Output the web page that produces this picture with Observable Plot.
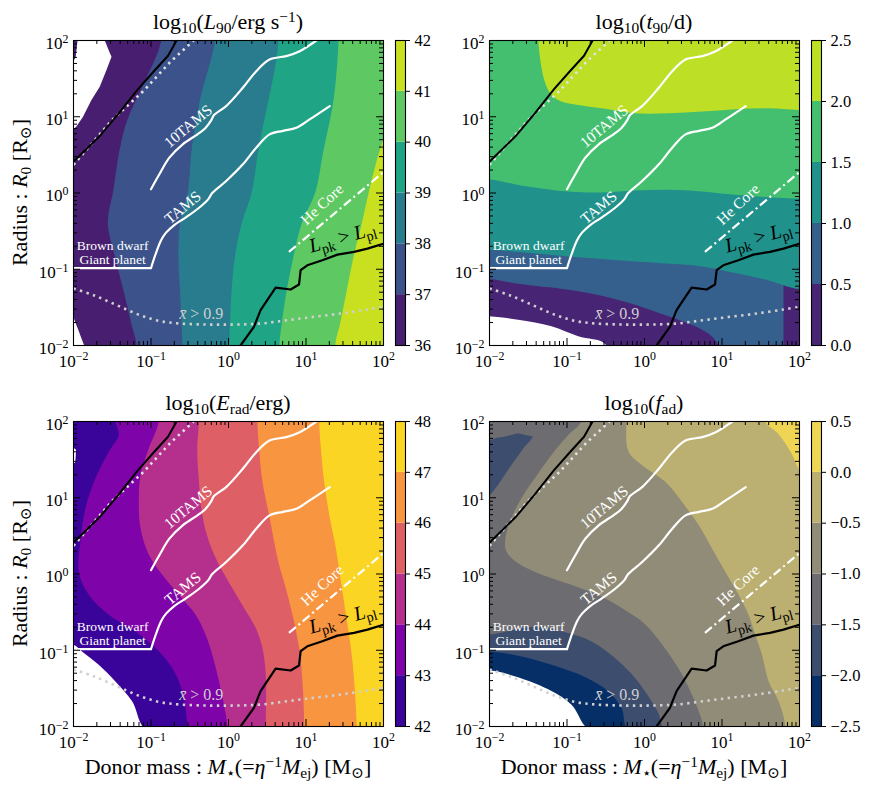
<!DOCTYPE html>
<html><head><meta charset="utf-8">
<script src="https://cdn.jsdelivr.net/npm/d3@7"></script>
<script src="https://cdn.jsdelivr.net/npm/@observablehq/plot@0.6"></script>
<style>
body{margin:0;background:#fff;}
#fig{position:relative;width:872px;height:794px;overflow:hidden;font-family:"Liberation Serif","DejaVu Serif",serif;color:#000;}
.lab{position:absolute;left:0;top:0;white-space:nowrap;line-height:1;transform-origin:0 0;}
.lab sub{font-size:70%;vertical-align:-0.25em;line-height:0;}
.lab sup{font-size:70%;vertical-align:0.45em;line-height:0;}
</style></head><body><div id="fig"></div>
<script>
// ================= DATA (log10 M, log10 R) =================
const majorTicks = [-2, -1, 0, 1, 2];
const tickLabels = ["10^{−2}", "10^{−1}", "10^{0}", "10^{1}", "10^{2}"];
const minorMultipliers = [2, 3, 4, 5, 6, 7, 8, 9];
const decades = [-2, -1, 0, 1];

// shared overlay curves
const blackUL = [[-2,0.41],[-1.668,0.74],[-1.41,1.05],[-1.17,1.36],[-0.96,1.6],[-0.78,1.8],[-0.67,2.0]];
const dottedUL = [[-2,0.37],[-1.5,0.96],[-1.095,1.34],[-0.75,1.72],[-0.45,2.0]];
const tamsFlat = [[-2,-0.985],[-1.0,-0.985]];
const tams = [[-1.0,-0.985],[-0.94,-0.80],[-0.87,-0.62],[-0.806,-0.52],[-0.70,-0.42],[-0.55,-0.32],[-0.375,-0.19],[-0.26,-0.08],[-0.21,0.0],[-0.03,0.157],[0.185,0.376],[0.358,0.594],[0.53,0.769],[0.703,0.815],[0.875,0.856],[1.047,0.965],[1.306,1.14]];
const tams10 = [[-1.0,0.05],[-0.892,0.245],[-0.763,0.463],[-0.591,0.638],[-0.40,0.77],[-0.30,0.85],[-0.22,0.96],[-0.19,1.02],[-0.03,1.14],[0.185,1.38],[0.358,1.598],[0.53,1.751],[0.746,1.795],[0.918,1.86],[1.134,2.0]];
const heCore = [[0.78,-0.773],[2.0,0.275]];
const lpkLine = [[0.155,-2.0],[0.328,-1.755],[0.414,-1.537],[0.50,-1.406],[0.608,-1.24],[0.802,-1.266],[0.91,-1.20],[0.931,-1.013],[1.017,-0.948],[1.211,-0.882],[1.405,-0.808],[1.62,-0.773],[1.793,-0.729],[2.0,-0.664]];
const xbarCurve = [[-2,-1.253],[-1.741,-1.34],[-1.44,-1.472],[-1.138,-1.603],[-0.879,-1.681],[-0.62,-1.712],[-0.276,-1.725],[0.069,-1.725],[0.414,-1.712],[0.759,-1.668],[1.103,-1.624],[1.448,-1.581],[1.793,-1.528],[2.0,-1.493]];

// Panel 1: log10 L90 boundaries (x as function of y, top -> bottom)
const p1b37 = [[-0.86,2],[-1.10,1.40],[-1.30,0.95],[-1.40,0.55],[-1.48,0.03],[-1.55,-0.40],[-1.46,-0.84],[-1.35,-1.28],[-1.25,-1.71],[-1.18,-2.0]];
const p1b38 = [[-0.168,2],[-0.362,1.214],[-0.47,0.559],[-0.52,0.0],[-0.62,-0.40],[-0.64,-0.838],[-0.62,-1.275],[-0.60,-1.712],[-0.59,-2]];
const p1b39 = [[0.651,2],[0.608,1.65],[0.522,1.214],[0.392,0.559],[0.306,0.0],[0.177,-0.40],[0.09,-0.838],[0.047,-1.275],[0.026,-1.712],[0.017,-2]];
const p1b40 = [[1.427,2],[1.362,1.214],[1.233,0.559],[1.125,0.0],[0.953,-0.40],[0.845,-0.838],[0.759,-1.275],[0.694,-1.712],[0.664,-2]];
const p1b41 = [[2.4,2],[2.1,1.0],[2.0,0.69],[1.922,0.43],[1.815,0.0],[1.728,-0.40],[1.62,-0.838],[1.534,-1.275],[1.448,-1.712],[1.384,-2]];
const p1WhiteTop = [[2.05,-1.935,-1.612],[1.83,-1.96,-1.525],[1.78,-1.965,-1.503],[1.607,-2.05,-1.568],[1.388,-2.05,-1.655],[1.214,-2.05,-1.762],[0.995,-2.05,-1.871],[0.864,-2.05,-1.956],[0.82,-2.05,-2.0]]; // [y, x1, x2]
const p1WhiteBottom = [[-1.62,-2.05,-2.0],[-2.05,-2.05,-1.84]];

// Panel 2: log10 t90 boundaries (y as function of x, left -> right)
const p2b05 = [[-2,-1.135],[-1.625,-1.197],[-0.978,-1.275],[-0.547,-1.354],[-0.116,-1.472],[0.315,-1.624],[0.66,-1.755],[0.875,-1.886],[0.96,-1.996],[1.2,-2.3]];
const p2b10 = [[-2,-0.751],[-0.978,-0.838],[-0.116,-0.904],[0.746,-0.969],[1.177,-1.057],[1.608,-1.153],[2.0,-1.266]];
const p2b15 = [[-2,0.175],[-1.625,0.10],[-0.978,0.013],[-0.547,0.0],[-0.116,0.026],[0.315,0.035],[0.746,0.013],[1.177,-0.031],[1.608,-0.061],[2.0,-0.08]];
const p2b20 = [[-2.0,2.6],[-1.4,2.3],[-1.366,2.0],[-1.332,1.694],[-1.28,1.454],[-1.194,1.279],[-1.065,1.192],[-0.849,1.148],[-0.547,1.105],[-0.116,1.039],[0.315,1.039],[0.746,1.061],[1.177,1.092],[1.608,1.105],[2.0,1.083]];
const p2White = [[-2,-1.624],[-1.625,-1.668],[-1.194,-1.755],[-0.849,-1.886],[-0.504,-1.983],[-0.45,-2.2]];

// Panel 3: log10 Erad boundaries (x as function of y)
const p3b43 = [[-1.453,2.0],[-1.41,1.817],[-1.539,1.598],[-1.711,1.249],[-1.84,0.856],[-1.905,0.419],[-1.927,0.026],[-1.797,-0.28],[-1.539,-0.541],[-1.194,-0.76],[-0.935,-0.978],[-0.72,-1.24],[-0.59,-1.546],[-0.526,-1.996]];
const p3b44 = [[-0.892,2.0],[-1.022,1.642],[-1.129,1.293],[-1.151,0.943],[-1.129,0.594],[-1.022,0.245],[-0.849,-0.017],[-0.634,-0.279],[-0.418,-0.541],[-0.289,-0.803],[-0.203,-1.066],[-0.116,-1.415],[-0.052,-1.72],[-0.009,-1.996]];
const p3b45 = [[-0.375,2.0],[-0.397,1.642],[-0.375,1.205],[-0.332,0.769],[-0.246,0.419],[-0.116,0.114],[0.056,-0.192],[0.207,-0.454],[0.358,-0.716],[0.444,-0.978],[0.487,-1.328],[0.487,-1.996]];
const p3b46 = [[0.379,2.0],[0.401,1.642],[0.444,1.205],[0.53,0.769],[0.595,0.419],[0.659,0.114],[0.746,-0.192],[0.832,-0.541],[0.918,-0.978],[0.961,-1.415],[0.983,-1.996]];
const p3b47 = [[1.177,2.0],[1.198,1.642],[1.241,1.205],[1.306,0.769],[1.392,0.332],[1.457,-0.105],[1.522,-0.541],[1.586,-0.978],[1.629,-1.415],[1.66,-1.996]];
const p3White = [[-2.0,-0.934],[-1.884,-1.022],[-1.668,-1.197],[-1.453,-1.415],[-1.237,-1.677],[-1.056,-2.05]];
const p3WhiteTop = [[1.66,-2.05,-2.0],[1.62,-2.05,-1.96],[1.46,-2.05,-1.97],[1.44,-2.05,-2.0]];

// Panel 4: log10 fad boundaries
const p4b23 = [[-0.806,2.0],[-0.978,1.817],[-1.194,1.555],[-1.409,1.249],[-1.582,0.987],[-1.711,0.725],[-1.789,0.463],[-1.776,0.288],[-1.625,0.135],[-1.366,0.004],[-1.065,-0.105],[-0.763,-0.214],[-0.504,-0.323],[-0.25,-0.476],[0.0,-0.651],[0.17,-0.847],[0.33,-1.066],[0.48,-1.306],[0.6,-1.546],[0.69,-1.764],[0.76,-1.996]];
const p4b34 = [[-0.23,2.0],[-0.2,1.6],[-0.03,1.424],[0.272,1.205],[0.487,0.943],[0.703,0.638],[0.875,0.332],[1.047,0.026],[1.22,-0.279],[1.349,-0.541],[1.435,-0.803],[1.522,-1.066],[1.608,-1.415],[1.737,-1.677],[1.823,-1.996]];
const p4b45 = [[1.565,2.0],[1.737,1.825],[1.909,1.563],[1.996,1.367],[2.2,1.1],[2.5,0]];
const p4Slate = [[-2.0,-0.80],[-1.409,-0.70],[-0.978,-0.78],[-0.677,-0.891],[-0.375,-1.109],[-0.116,-1.371],[0.056,-1.611],[0.185,-1.83],[0.272,-2.05]];
const p4Navy = [[-2.0,-1.022],[-1.625,-1.079],[-1.194,-1.197],[-0.763,-1.358],[-0.461,-1.546],[-0.289,-1.764],[-0.203,-2.05]];
const p4White = [[-2.0,-1.27],[-1.625,-1.36],[-1.194,-1.54],[-0.935,-1.72],[-0.70,-2.05]];
const p4Blob = [[1.838,-1.625,-1.625],[1.795,-1.80,-1.431],[1.782,-1.884,-1.44],[1.729,-2.05,-1.48],[1.664,-2.05,-1.539],[1.424,-2.05,-1.711],[1.162,-2.05,-1.884],[1.009,-2.05,-2.0]];

// colorbar levels & labels
const cb1Levels = [36,37,38,39,40,41,42], cb1Labels = ["36","37","38","39","40","41","42"];
const cb2Levels = [0,0.5,1,1.5,2,2.5], cb2Labels = ["0.0","0.5","1.0","1.5","2.0","2.5"];
const cb3Levels = [42,43,44,45,46,47,48], cb3Labels = ["42","43","44","45","46","47","48"];
const cb4Levels = [-2.5,-2,-1.5,-1,-0.5,0,0.5], cb4Labels = ["−2.5","−2.0","−1.5","−1.0","−0.5","0.0","0.5"];

// ================= STYLE / LAYOUT =================
const FW = 310, FH = 305;
const ML = 62, MR = 8, MT = 10, MB = 34;
const FONT = "Liberation Serif, DejaVu Serif, serif";
const mid = (n) => d3.range(n).map(k => (2*k+1)/(2*n));
const viridis6 = mid(6).map(d3.interpolateViridis);
const viridis5 = mid(5).map(d3.interpolateViridis);
const plasma6 = mid(6).map(d3.interpolatePlasma);
const cividis6 = mid(6).map(d3.interpolateCividis);
const minorTicks = decades.flatMap(d => minorMultipliers.map(m => d + Math.log10(m)));

const padV = b => [[b[0][0], b[0][1]+0.6], ...b, [b[b.length-1][0], b[b.length-1][1]-0.6]];
const padH = b => [[b[0][0]-0.6, b[0][1]], ...b, [b[b.length-1][0]+0.6, b[b.length-1][1]]];
const SMOOTH = "catmull-rom";

function fillMark(f){
  if (f.kind === "bg") return Plot.rect([0], {x1:()=>-3, x2:()=>3, y1:()=>-3, y2:()=>3, fill:f.color, clip:true});
  if (f.kind === "right") return Plot.areaX(padV(f.data), {y:d=>d[1], x1:d=>d[0], x2:()=>3, fill:f.color, clip:true, curve:SMOOTH});
  if (f.kind === "above") return Plot.areaY(padH(f.data), {x:d=>d[0], y1:d=>d[1], y2:()=>3, fill:f.color, clip:true, curve:SMOOTH});
  if (f.kind === "below") return Plot.areaY(padH(f.data), {x:d=>d[0], y1:()=>-3, y2:d=>d[1], fill:f.color, clip:true, curve:SMOOTH});
  if (f.kind === "blob") return Plot.areaX(f.data, {y:d=>d[0], x1:d=>d[1], x2:d=>d[2], fill:f.color, clip:true});
}

function richify(root){
  const NS = "http://www.w3.org/2000/svg";
  root.querySelectorAll("text").forEach(el => {
    const s = el.textContent;
    if (!/[\^_*]\{/.test(s)) return;
    while (el.firstChild) el.removeChild(el.firstChild);
    let shift = 0;
    const add = (txt, kind) => {
      if (!txt) return;
      const t = document.createElementNS(NS, "tspan");
      t.textContent = txt;
      let target = 0, size = 1;
      if (kind === "^") { target = -0.36; size = 0.7; }
      if (kind === "_") { target = 0.22; size = 0.7; }
      if (kind === "*") t.setAttribute("font-style", "italic");
      if (size !== 1) t.setAttribute("font-size", (size*100) + "%");
      const d = target - shift;
      if (Math.abs(d) > 1e-6) t.setAttribute("dy", (d/size).toFixed(3) + "em");
      shift = target;
      el.appendChild(t);
    };
    const re = /([\^_*])\{([^}]*)\}/g;
    let last = 0, m;
    while ((m = re.exec(s))) { add(s.slice(last, m.index), ""); add(m[2], m[1]); last = re.lastIndex; }
    add(s.slice(last), "");
  });
}

const annotations = [
  {t:"10TAMS", x:-0.52, y:0.875, r:-40, fill:"white", fs:15.5},
  {t:"TAMS", x:-0.59, y:-0.19, r:-40, fill:"white", fs:15.5},
  {t:"He Core", x:1.208, y:-0.149, r:-43, fill:"white", fs:15.5},
  {t:"*{L}_{pk} > *{L}_{pl}", x:1.47, y:-0.58, r:-16, fill:"black", fs:20},
  {t:"Brown dwarf", x:-1.495, y:-0.696, r:0, fill:"white", fs:13.5},
  {t:"Giant planet", x:-1.495, y:-0.87, r:0, fill:"white", fs:13.5},
  {t:"*{x̄} > 0.9", x:-0.352, y:-1.591, r:0, fill:"#cfcfcf", fs:16}
];

function mainPanel(fills){
  const marks = fills.map(fillMark);
  const line = (data, o) => Plot.line(data, {x:d=>d[0], y:d=>d[1], clip:true, strokeLinejoin:"round", ...o});
  marks.push(
    line(dottedUL, {stroke:"#e2e2e2", strokeWidth:2.6, strokeDasharray:"2.4,4.2", strokeLinecap:"butt"}),
    line(blackUL, {stroke:"black", strokeWidth:2}),
    line(tamsFlat, {stroke:"white", strokeWidth:2.2}),
    line(tams, {stroke:"white", strokeWidth:2.2, curve:SMOOTH}),
    line(tams10, {stroke:"white", strokeWidth:2.2, curve:SMOOTH}),
    line(heCore, {stroke:"white", strokeWidth:2.2, strokeDasharray:"9,3.5,2,3.5", strokeLinecap:"butt"}),
    line(lpkLine, {stroke:"black", strokeWidth:2.2}),
    line(xbarCurve, {stroke:"#d0d0d0", strokeWidth:2.6, strokeDasharray:"2.4,4.4", strokeLinecap:"butt", curve:SMOOTH})
  );
  annotations.forEach(a => marks.push(Plot.text([a], {x:d=>d.x, y:d=>d.y, text:d=>d.t, rotate:a.r, fill:a.fill, fontSize:a.fs, textAnchor:"middle", lineAnchor:"middle"})));
  marks.push(
    Plot.tickX(majorTicks, {x:d=>d, insetTop:FH-7, stroke:"black"}),
    Plot.tickX(majorTicks, {x:d=>d, insetBottom:FH-7, stroke:"black"}),
    Plot.tickX(minorTicks, {x:d=>d, insetTop:FH-4, stroke:"black"}),
    Plot.tickX(minorTicks, {x:d=>d, insetBottom:FH-4, stroke:"black"}),
    Plot.tickY(majorTicks, {y:d=>d, insetRight:FW-7, stroke:"black"}),
    Plot.tickY(majorTicks, {y:d=>d, insetLeft:FW-7, stroke:"black"}),
    Plot.tickY(minorTicks, {y:d=>d, insetRight:FW-4, stroke:"black"}),
    Plot.tickY(minorTicks, {y:d=>d, insetLeft:FW-4, stroke:"black"}),
    Plot.frame({stroke:"black", strokeWidth:1.1}),
    Plot.text(majorTicks, {x:d=>d, text:(d,i)=>tickLabels[i], frameAnchor:"bottom", dy:21, lineAnchor:"bottom", textAnchor:"middle"}),
    Plot.text(majorTicks, {y:d=>d, text:(d,i)=>tickLabels[i], frameAnchor:"left", dx:-5, dy:3, textAnchor:"end", lineAnchor:"middle"})
  );
  const svg = Plot.plot({
    width: FW+ML+MR, height: FH+MT+MB, marginLeft: ML, marginRight: MR, marginTop: MT, marginBottom: MB,
    x: {domain:[-2,2], axis:null}, y: {domain:[-2,2], axis:null},
    style: {background:"transparent", fontFamily:FONT, fontSize:"17px", overflow:"visible"},
    marks
  });
  richify(svg);
  return svg;
}

function colorbar(levels, labels, colors){
  const bands = colors.map((c,i) => [levels[i], levels[i+1], c]);
  return Plot.plot({
    width: 10+1+48, height: FH+MT+MB, marginLeft:1, marginRight:48, marginTop:MT, marginBottom:MB,
    x: {domain:[0,1], axis:null}, y: {domain:[levels[0], levels[levels.length-1]]},
    color: {type:"identity"},
    style: {background:"transparent", fontFamily:FONT, fontSize:"16.5px", overflow:"visible"},
    marks: [
      Plot.rect(bands, {x1:()=>0, x2:()=>1, y1:d=>d[0], y2:d=>d[1], fill:d=>d[2]}),
      Plot.frame({stroke:"black", strokeWidth:1.1}),
      Plot.axisY(levels, {anchor:"right", tickSize:4, tickPadding:5, label:null, tickFormat:d=>labels[levels.indexOf(d)], stroke:"black"})
    ]
  });
}

const fig = document.getElementById("fig");
function place(el, left, top){ el.style.position = "absolute"; el.style.left = left+"px"; el.style.top = top+"px"; fig.appendChild(el); }
function label(html, css){ const d = document.createElement("div"); d.className = "lab"; d.innerHTML = html; Object.assign(d.style, css); fig.appendChild(d); }

const panels = [
  {left:73, top:40, cb:395, fills:[
    {kind:"bg", color:viridis6[0]},
    {kind:"right", data:p1b37, color:viridis6[1]},
    {kind:"right", data:p1b38, color:viridis6[2]},
    {kind:"right", data:p1b39, color:viridis6[3]},
    {kind:"right", data:p1b40, color:viridis6[4]},
    {kind:"right", data:p1b41, color:viridis6[5]},
    {kind:"blob", data:p1WhiteTop, color:"white"},
    {kind:"blob", data:p1WhiteBottom, color:"white"}],
   levels:cb1Levels, labels:cb1Labels, colors:viridis6,
   title:"log<sub>10</sub>(<i>L</i><sub>90</sub>/erg s<sup>−1</sup>)"},
  {left:489, top:40, cb:811, fills:[
    {kind:"bg", color:viridis5[0]},
    {kind:"above", data:p2b05, color:viridis5[1]},
    {kind:"above", data:p2b10, color:viridis5[2]},
    {kind:"above", data:p2b15, color:viridis5[3]},
    {kind:"above", data:p2b20, color:viridis5[4]},
    {kind:"below", data:p2White, color:"white"}],
   levels:cb2Levels, labels:cb2Labels, colors:viridis5,
   title:"log<sub>10</sub>(<i>t</i><sub>90</sub>/d)"},
  {left:73, top:421, cb:395, fills:[
    {kind:"bg", color:plasma6[0]},
    {kind:"right", data:p3b43, color:plasma6[1]},
    {kind:"right", data:p3b44, color:plasma6[2]},
    {kind:"right", data:p3b45, color:plasma6[3]},
    {kind:"right", data:p3b46, color:plasma6[4]},
    {kind:"right", data:p3b47, color:plasma6[5]},
    {kind:"below", data:p3White, color:"white"},
    {kind:"blob", data:p3WhiteTop, color:"white"}],
   levels:cb3Levels, labels:cb3Labels, colors:plasma6,
   title:"log<sub>10</sub>(<i>E</i><sub>rad</sub>/erg)"},
  {left:489, top:421, cb:811, fills:[
    {kind:"bg", color:cividis6[2]},
    {kind:"right", data:p4b23, color:cividis6[3]},
    {kind:"right", data:p4b34, color:cividis6[4]},
    {kind:"right", data:p4b45, color:cividis6[5]},
    {kind:"below", data:p4Slate, color:cividis6[1]},
    {kind:"below", data:p4Navy, color:cividis6[0]},
    {kind:"below", data:p4White, color:"white"},
    {kind:"blob", data:p4Blob, color:cividis6[1]}],
   levels:cb4Levels, labels:cb4Labels, colors:cividis6,
   title:"log<sub>10</sub>(<i>f</i><sub>ad</sub>)"}
];

panels.forEach((p, i) => {
  place(mainPanel(p.fills), p.left - ML, p.top - MT);
  place(colorbar(p.levels, p.labels, p.colors), p.cb - 1, p.top - MT);
  const cx = p.left + FW/2;
  label(p.title, {fontSize:"22px", transform:`translate(${cx}px, ${p.top - 29}px) translateX(-50%)`});
  if (i % 2 === 0) {
    label("Radius : <i>R</i><sub>0</sub> [R<sub>⊙</sub>]", {fontSize:"22px", transform:`translate(9px, ${p.top + FH/2}px) rotate(-90deg) translateX(-50%)`});
  }
  if (i >= 2) {
    label("Donor mass : <i>M</i><sub>⋆</sub>(=<i>η</i><sup>−1</sup><i>M</i><sub>ej</sub>) [M<sub>⊙</sub>]", {fontSize:"22px", transform:`translate(${cx}px, 756px) translateX(-50%)`});
  }
});
</script></body></html>
